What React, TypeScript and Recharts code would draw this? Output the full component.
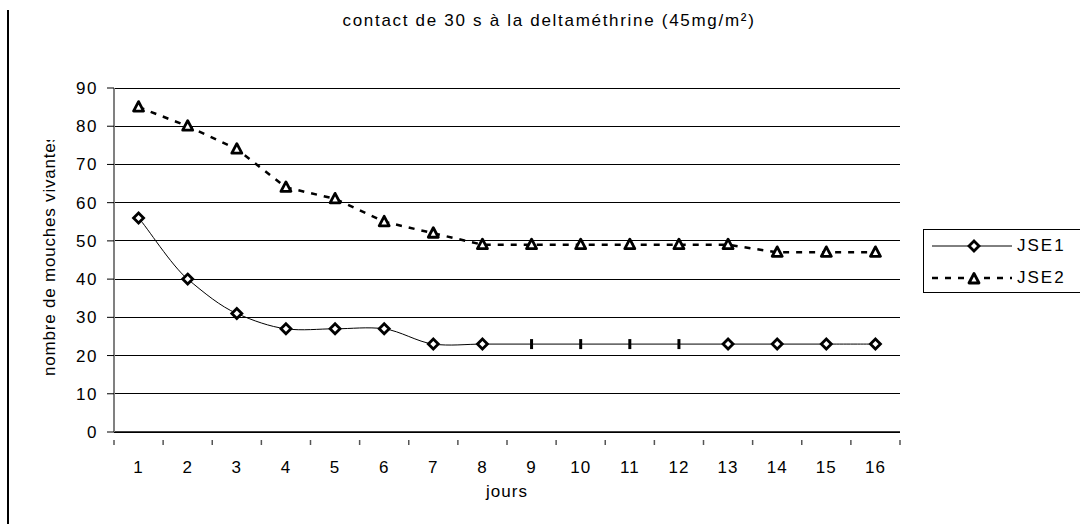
import React from 'react';
import { LineChart, Line, XAxis, YAxis, CartesianGrid, Legend } from 'recharts';

const days = [1, 2, 3, 4, 5, 6, 7, 8, 9, 10, 11, 12, 13, 14, 15, 16];
const jse1 = [56, 40, 31, 27, 27, 27, 23, 23, 23, 23, 23, 23, 23, 23, 23, 23];
const jse2 = [85, 80, 74, 64, 61, 55, 52, 49, 49, 49, 49, 49, 49, 47, 47, 47];
const yTicks = [0, 10, 20, 30, 40, 50, 60, 70, 80, 90];
// days where JSE1 is drawn with a bar marker instead of a diamond
const barMarkerDays = [9, 10, 11, 12];

const title = 'contact de 30 s à la deltaméthrine (45mg/m²)';
const yTitle = 'nombre de mouches vivantes';
const xTitle = 'jours';

const FONT = '"Liberation Sans", Arial, sans-serif';

const data = days.map((d, i) => ({ day: d, JSE1: jse1[i], JSE2: jse2[i] }));

// label ticks at integers, separator ticks between categories
const xTicks = [days[0] - 0.5, ...days.flatMap((d) => [d, d + 0.5])];

// Excel-like smoothed line (Catmull-Rom through the points)
const excelSmooth = (context: any) => {
  let pts: number[][] = [];
  return {
    areaStart() {},
    areaEnd() {},
    lineStart() {
      pts = [];
    },
    lineEnd() {
      if (!pts.length) return;
      context.moveTo(pts[0][0], pts[0][1]);
      for (let i = 0; i < pts.length - 1; i++) {
        const p0 = pts[i - 1] || pts[i];
        const p1 = pts[i];
        const p2 = pts[i + 1];
        const p3 = pts[i + 2] || p2;
        context.bezierCurveTo(
          p1[0] + (p2[0] - p0[0]) / 6,
          p1[1] + (p2[1] - p0[1]) / 7,
          p2[0] - (p3[0] - p1[0]) / 6,
          p2[1] - (p3[1] - p1[1]) / 7,
          p2[0],
          p2[1]
        );
      }
    },
    point(x: number, y: number) {
      pts.push([+x, +y]);
    },
  };
};

const Diamond = ({ cx, cy }: { cx: number; cy: number }) => (
  <polygon
    points={`${cx},${cy - 5} ${cx + 5},${cy} ${cx},${cy + 5} ${cx - 5},${cy}`}
    fill="#fff"
    stroke="#000"
    strokeWidth={2.8}
  />
);

const Triangle = ({ cx, cy }: { cx: number; cy: number }) => (
  <polygon
    points={`${cx},${cy - 5.5} ${cx + 5},${cy + 4} ${cx - 5},${cy + 4}`}
    fill="#fff"
    stroke="#000"
    strokeWidth={2.8}
    strokeLinejoin="round"
  />
);

const Jse1Dot = (props: any) => {
  const { cx, cy, payload, index } = props;
  if (cx == null || cy == null) return <g key={index} />;
  if (barMarkerDays.includes(payload.day)) {
    return <line key={index} x1={cx} x2={cx} y1={cy - 5} y2={cy + 5} stroke="#000" strokeWidth={3} />;
  }
  return <Diamond key={index} cx={cx} cy={cy} />;
};

const Jse2Dot = (props: any) => {
  const { cx, cy, index } = props;
  if (cx == null || cy == null) return <g key={index} />;
  return <Triangle key={index} cx={cx} cy={cy} />;
};

const XTick = (props: any) => {
  const { x, y, payload } = props;
  const v = payload.value;
  if (Number.isInteger(v)) {
    return (
      <text x={x} y={y + 33} textAnchor="middle" fontSize={17} fontFamily={FONT} fill="#000" letterSpacing={1}>
        {v}
      </text>
    );
  }
  return <line x1={x} x2={x} y1={y} y2={y + 5} stroke="#555" strokeWidth={1.5} />;
};

const YLabel = () => (
  <g clipPath="url(#ylab-clip)">
    <defs>
      <clipPath id="ylab-clip">
        <rect x={0} y={140} width={100} height={384} />
      </clipPath>
    </defs>
    <text
      x={55}
      y={376}
      transform="rotate(-90 55 376)"
      fontSize={17}
      fontFamily={FONT}
      fill="#000"
      letterSpacing={0.8}
    >
      {yTitle}
    </text>
  </g>
);

const XLabel = () => (
  <text x={507} y={497} textAnchor="middle" fontSize={17} fontFamily={FONT} fill="#000" letterSpacing={1}>
    {xTitle}
  </text>
);

const LegendBox = ({ payload }: any) => (
  <div style={{ width: 158, height: 64, border: '1px solid #000', background: '#fff', boxSizing: 'border-box' }}>
    {(payload || []).map((entry: any) => (
      <div key={entry.value} style={{ display: 'flex', alignItems: 'center', height: 32 }}>
        <svg width={93} height={16} style={{ display: 'block' }}>
          <line
            x1={8}
            x2={88}
            y1={8}
            y2={8}
            stroke="#000"
            strokeWidth={entry.value === 'JSE2' ? 2.5 : 1}
            strokeDasharray={entry.value === 'JSE2' ? '6 7' : undefined}
          />
          {entry.value === 'JSE2' ? <Triangle cx={50} cy={9} /> : <Diamond cx={50} cy={8} />}
        </svg>
        <span style={{ fontFamily: FONT, fontSize: 17, letterSpacing: 2, color: '#000' }}>{entry.value}</span>
      </div>
    ))}
  </div>
);

export default function App() {
  return (
    <div style={{ position: 'absolute', left: 0, top: 0, width: 1080, height: 524, background: '#fff', overflow: 'hidden' }}>
      <div style={{ position: 'absolute', left: 7, top: 10, width: 2, height: 514, background: '#000' }} />
      <div
        style={{
          position: 'absolute',
          left: 249,
          top: 11,
          width: 600,
          textAlign: 'center',
          fontFamily: FONT,
          fontSize: 17,
          lineHeight: '19px',
          letterSpacing: 1.7,
          color: '#000',
        }}
      >
        {title}
      </div>
      <LineChart width={1080} height={524} data={data} margin={{ top: 88, right: 20, bottom: 0, left: 0 }}>
        <CartesianGrid horizontal vertical={false} stroke="#000" strokeWidth={1} shapeRendering="crispEdges" />
        <XAxis
          dataKey="day"
          type="number"
          domain={[0.5, 16.5]}
          ticks={xTicks}
          interval={0}
          height={92}
          tick={<XTick />}
          tickLine={false}
          axisLine={{ stroke: '#000', strokeWidth: 1.5 }}
          label={<XLabel />}
        />
        <YAxis
          domain={[0, 90]}
          ticks={yTicks}
          interval={0}
          width={114}
          tickSize={7}
          tickMargin={9}
          tick={{ fontSize: 17, fontFamily: FONT, fill: '#000', letterSpacing: 1.5 } as any}
          tickLine={{ stroke: '#000' }}
          axisLine={{ stroke: '#808080', strokeWidth: 2 }}
          label={<YLabel />}
        />
        <Legend
          layout="vertical"
          align="right"
          verticalAlign="middle"
          content={<LegendBox />}
          wrapperStyle={{ position: 'absolute', left: 923, top: 229, width: 160, height: 64 }}
        />
        <Line
          dataKey="JSE1"
          type={excelSmooth as any}
          stroke="#000"
          strokeWidth={1}
          dot={<Jse1Dot />}
          activeDot={false}
          isAnimationActive={false}
        />
        <Line
          dataKey="JSE2"
          type="linear"
          stroke="#000"
          strokeWidth={2.5}
          strokeDasharray="6 7"
          dot={<Jse2Dot />}
          activeDot={false}
          isAnimationActive={false}
        />
      </LineChart>
    </div>
  );
}
